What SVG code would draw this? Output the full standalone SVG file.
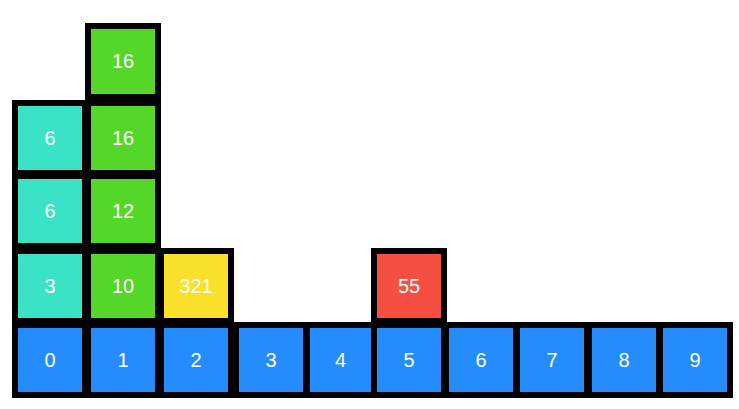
<svg xmlns="http://www.w3.org/2000/svg" width="739" height="409" viewBox="0 0 739 409">
<style>
rect{stroke:#000;stroke-width:6}
.b{fill:#258cfd}.t{fill:#3be3c6}.g{fill:#55d72a}.y{fill:#f9e02a}.r{fill:#f54f41}
text{fill:#fff;font-family:"Liberation Sans",Arial,sans-serif;font-size:20px;text-anchor:middle}
</style>
<rect x="0" y="0" width="739" height="409" fill="#fff" style="stroke:none"/>
<g id="b0"><rect class="b" x="15" y="325" width="70" height="70"/><text x="50" y="367">0</text></g>
<g id="b1"><rect class="b" x="88" y="325" width="70" height="70"/><text x="123" y="367">1</text></g>
<g id="b2"><rect class="b" x="161" y="325" width="70" height="70"/><text x="196" y="367">2</text></g>
<g id="b3"><rect class="b" x="236" y="325" width="70" height="70"/><text x="271" y="367">3</text></g>
<g id="b4"><rect class="b" x="307" y="325" width="67" height="70"/><text x="340.5" y="367">4</text></g>
<g id="b5"><rect class="b" x="374" y="325" width="70" height="70"/><text x="409" y="367">5</text></g>
<g id="b6"><rect class="b" x="446" y="325" width="70" height="70"/><text x="481" y="367">6</text></g>
<g id="b7"><rect class="b" x="517" y="325" width="70" height="70"/><text x="552" y="367">7</text></g>
<g id="b8"><rect class="b" x="589" y="325" width="70" height="70"/><text x="624" y="367">8</text></g>
<g id="b9"><rect class="b" x="660" y="325" width="70" height="70"/><text x="695" y="367">9</text></g>
<g id="t3"><rect class="t" x="15" y="251" width="70" height="70"/><text x="50" y="293">3</text></g>
<g id="g10"><rect class="g" x="88" y="251" width="70" height="70"/><text x="123" y="293">10</text></g>
<g id="y321"><rect class="y" x="161" y="251" width="70" height="70"/><text x="196" y="293">321</text></g>
<g id="r55"><rect class="r" x="374" y="251" width="70" height="70"/><text x="409" y="293">55</text></g>
<g id="t6a"><rect class="t" x="15" y="176" width="70" height="70"/><text x="50" y="218">6</text></g>
<g id="g12"><rect class="g" x="88" y="176" width="70" height="70"/><text x="123" y="218">12</text></g>
<g id="t6b"><rect class="t" x="15" y="103" width="70" height="70"/><text x="50" y="145">6</text></g>
<g id="g16a"><rect class="g" x="88" y="103" width="70" height="70"/><text x="123" y="145">16</text></g>
<g id="g16b"><rect class="g" x="88" y="26" width="70" height="71"/><text x="123" y="68">16</text></g>
<g id="connectors"></g>
</svg>
